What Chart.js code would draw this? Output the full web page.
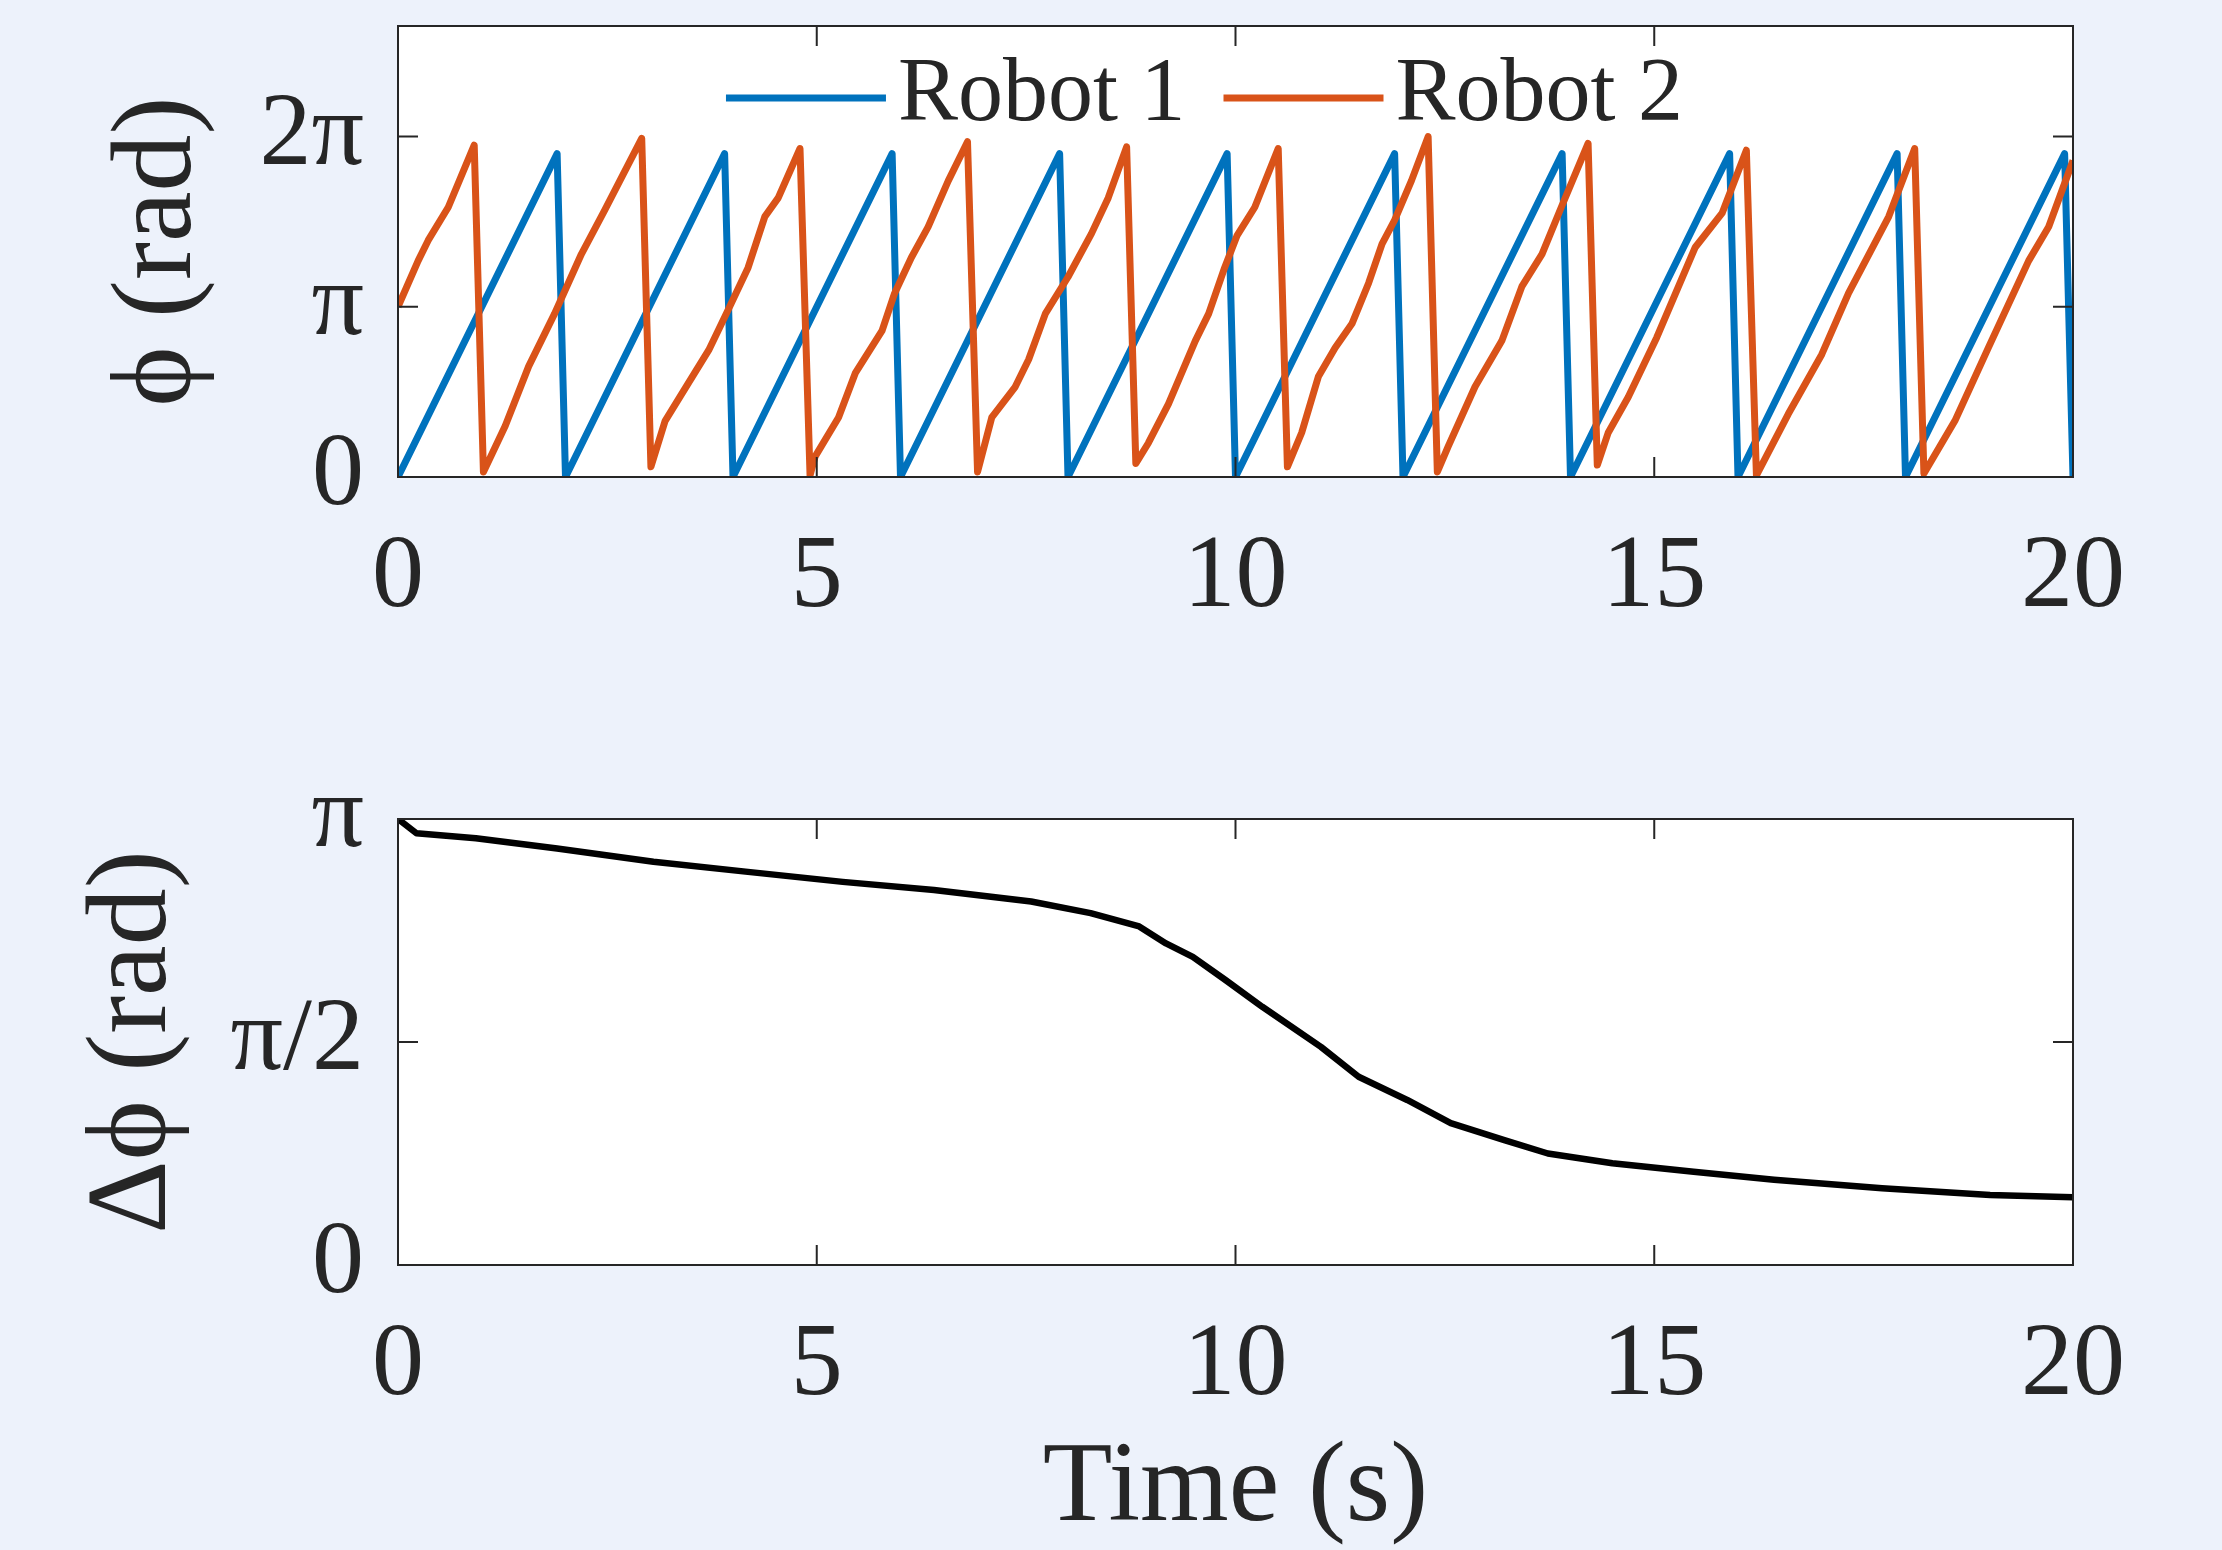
<!DOCTYPE html>
<html>
<head>
<meta charset="utf-8">
<title>Robot phase</title>
<script src="https://cdn.jsdelivr.net/npm/chart.js@4.4.1/dist/chart.umd.min.js"></script>
<style>
  html, body { margin: 0; padding: 0; background: #edf2fb; }
  body { width: 2222px; height: 1550px; position: relative; overflow: hidden; }
  canvas { position: absolute; left: 0; display: block; }
  #phaseChart { top: 0; }
  #diffChart { top: 700px; }
</style>
</head>
<body>
<canvas id="phaseChart" width="2222" height="700"></canvas>
<canvas id="diffChart" width="2222" height="850"></canvas>
<script>
// axis ticks (phase values are in multiples of pi)
const timeTicks = [0, 5, 10, 15, 20];
const phaseTicks = [0, 1, 2];
const phaseTickLabels = ['0', 'π', '2π'];
const diffTicks = [0, 0.5, 1];
const diffTickLabels = ['0', 'π/2', 'π'];

// Robot 1 - sawtooth vertices
const robot1Time = [0, 1.9, 2, 3.9, 4, 5.9, 6, 7.9, 8, 9.9, 10, 11.9, 12, 13.9, 14, 15.9, 16, 17.9, 18, 19.9, 20];
const robot1Phase = [0, 1.9, 0, 1.9, 0, 1.9, 0, 1.9, 0, 1.9, 0, 1.9, 0, 1.9, 0, 1.9, 0, 1.9, 0, 1.9, 0];

// Robot 2
const robot2Time = [0, 0.24, 0.36, 0.60, 0.91, 1.02, 1.28, 1.56, 1.87, 2.19, 2.47, 2.91, 3.02, 3.19, 3.39, 3.71, 3.94,
  4.18, 4.38, 4.54, 4.80, 4.92, 4.98, 5.26, 5.46, 5.78, 5.93, 6.13, 6.33, 6.57, 6.80, 6.92, 7.09, 7.37, 7.53, 7.73,
  8.00, 8.28, 8.48, 8.70, 8.81, 8.96, 9.20, 9.52, 9.68, 9.87, 10.02, 10.23, 10.51, 10.62, 10.79, 10.99, 11.19, 11.39,
  11.59, 11.75, 11.90, 12.10, 12.30, 12.41, 12.54, 12.86, 13.18, 13.42, 13.66, 13.89, 14.21, 14.32, 14.45, 14.69,
  15.03, 15.49, 15.81, 16.10, 16.22, 16.60, 17.00, 17.32, 17.80, 18.11, 18.22, 18.59, 18.99, 19.47, 19.71, 20.0];
const robot2Phase = [1.0, 1.27, 1.39, 1.585, 1.95, 0.03, 0.30, 0.65, 0.96, 1.31, 1.57, 1.99, 0.06, 0.33, 0.49, 0.745, 0.98,
  1.23, 1.53, 1.64, 1.93, 0.01, 0.12, 0.35, 0.61, 0.86, 1.08, 1.29, 1.47, 1.74, 1.97, 0.03, 0.35, 0.53, 0.69, 0.96,
  1.175, 1.43, 1.64, 1.94, 0.08, 0.20, 0.43, 0.80, 0.96, 1.23, 1.42, 1.585, 1.93, 0.06, 0.26, 0.59, 0.76, 0.90,
  1.14, 1.37, 1.51, 1.74, 2.00, 0.03, 0.18, 0.53, 0.80, 1.12, 1.31, 1.585, 1.96, 0.07, 0.26, 0.47,
  0.82, 1.35, 1.55, 1.92, 0.01, 0.37, 0.72, 1.08, 1.53, 1.93, 0.02, 0.33, 0.76, 1.27, 1.47, 1.86];

// phase difference
const diffTime = [0, 0.22, 0.93, 1.90, 3.05, 4.15, 5.31, 6.40, 7.56, 8.27, 8.85, 9.17, 9.49, 9.88, 10.32, 11.02, 11.47,
  12.05, 12.57, 13.21, 13.73, 14.50, 15.47, 16.43, 17.72, 19.01, 20.0];
const diffPhase = [1.0, 0.968, 0.957, 0.934, 0.904, 0.882, 0.859, 0.841, 0.815, 0.789, 0.759, 0.721, 0.691, 0.639, 0.579,
  0.489, 0.422, 0.370, 0.318, 0.280, 0.250, 0.228, 0.209, 0.191, 0.172, 0.157, 0.152];

const textColor = '#262626';
const serif = '"Liberation Serif", "DejaVu Serif", serif';
const tickFont = { family: serif, size: 104, lineHeight: 1 };
const titleFont = { family: serif, size: 114, lineHeight: 1 };
const tickLen = 20;

const toPoints = (xs, ys) => xs.map((x, i) => ({ x: x, y: ys[i] }));

// white plot area, box and inward ticks like matlab
const framePlugin = {
  id: 'frame',
  beforeDraw(chart) {
    const { ctx, chartArea: a } = chart;
    ctx.save();
    ctx.fillStyle = '#ffffff';
    ctx.fillRect(a.left, a.top, a.right - a.left, a.bottom - a.top);
    ctx.restore();
  },
  afterDatasetsDraw(chart) {
    const { ctx, chartArea: a, scales } = chart;
    ctx.save();
    ctx.strokeStyle = textColor;
    ctx.lineWidth = 2;
    ctx.beginPath();
    scales.x.ticks.forEach(t => {
      const px = scales.x.getPixelForValue(t.value);
      ctx.moveTo(px, a.bottom); ctx.lineTo(px, a.bottom - tickLen);
      ctx.moveTo(px, a.top); ctx.lineTo(px, a.top + tickLen);
    });
    scales.y.ticks.forEach(t => {
      const py = scales.y.getPixelForValue(t.value);
      ctx.moveTo(a.left, py); ctx.lineTo(a.left + tickLen, py);
      ctx.moveTo(a.right, py); ctx.lineTo(a.right - tickLen, py);
    });
    ctx.stroke();
    ctx.strokeRect(a.left, a.top, a.right - a.left, a.bottom - a.top);
    ctx.restore();
  }
};

// legend drawn inside the top of the plot area
const insideLegend = {
  id: 'insideLegend',
  afterDatasetsDraw(chart) {
    const { ctx, chartArea: a } = chart;
    const sample = 160, gap = 12, itemGap = 38;
    ctx.save();
    ctx.font = '90px ' + serif;
    const items = chart.data.datasets.map(ds => ({ label: ds.label, color: ds.borderColor, w: ctx.measureText(ds.label).width }));
    const total = items.reduce((s, it) => s + sample + gap + it.w, 0) + itemGap * (items.length - 1);
    let x = (a.left + a.right) / 2 - 31 - total / 2;
    const y = a.top + 72;
    items.forEach(it => {
      ctx.strokeStyle = it.color;
      ctx.lineWidth = 7;
      ctx.beginPath();
      ctx.moveTo(x, y); ctx.lineTo(x + sample, y);
      ctx.stroke();
      ctx.fillStyle = textColor;
      ctx.textBaseline = 'alphabetic';
      ctx.fillText(it.label, x + sample + gap, y + 22);
      x += sample + gap + it.w + itemGap;
    });
    ctx.restore();
  }
};

function fixBox(width, height) {
  return scale => {
    if (width) scale.width = width;
    if (height) scale.height = height;
    scale.paddingLeft = 0; scale.paddingRight = 0;
    scale.paddingTop = 0; scale.paddingBottom = 0;
  };
}

function timeAxis(height, title) {
  return {
    type: 'linear',
    min: 0,
    max: 20,
    afterBuildTicks: s => { s.ticks = timeTicks.map(v => ({ value: v })); },
    afterFit: fixBox(0, height),
    grid: { display: false, drawTicks: false, tickLength: 0 },
    border: { display: false },
    ticks: { font: tickFont, color: textColor, padding: 50, maxRotation: 0, autoSkip: false, callback: v => String(v) },
    title: title ? { display: true, text: title, font: titleFont, color: textColor, padding: { top: 0, bottom: 3 } } : { display: false }
  };
}

function valueAxis(max, tickVals, tickLabels, title, titlePad) {
  return {
    type: 'linear',
    min: 0,
    max: max,
    afterBuildTicks: s => { s.ticks = tickVals.map(v => ({ value: v })); },
    afterFit: fixBox(398, 0),
    grid: { display: false, drawTicks: false, tickLength: 0 },
    border: { display: false },
    ticks: { font: tickFont, color: textColor, padding: 34, autoSkip: false, callback: (v, i) => tickLabels[i] },
    title: { display: true, text: title, font: titleFont, color: textColor, padding: { top: titlePad, bottom: 0 } }
  };
}

const common = {
  responsive: false,
  animation: false,
  events: [],
  plugins: { legend: { display: false }, tooltip: { enabled: false } },
  elements: { point: { radius: 0 }, line: { tension: 0 } }
};

new Chart(document.getElementById('phaseChart'), {
  type: 'line',
  data: {
    datasets: [
      { label: 'Robot 1', data: toPoints(robot1Time, robot1Phase), borderColor: '#0072BD', borderWidth: 7, order: 1, borderJoinStyle: 'round' },
      { label: 'Robot 2', data: toPoints(robot2Time, robot2Phase), borderColor: '#D95319', borderWidth: 7, order: 0, borderJoinStyle: 'round' }
    ]
  },
  options: Object.assign({}, common, {
    layout: { padding: { left: 0, right: 149, top: 26, bottom: 0 } },
    scales: {
      x: timeAxis(223, null),
      y: valueAxis(2.65, phaseTicks, phaseTickLabels, 'ϕ (rad)', 103)
    }
  }),
  plugins: [framePlugin, insideLegend]
});

new Chart(document.getElementById('diffChart'), {
  type: 'line',
  data: {
    datasets: [
      { label: 'Δϕ', data: toPoints(diffTime, diffPhase), borderColor: '#000000', borderWidth: 6.5, borderJoinStyle: 'round' }
    ]
  },
  options: Object.assign({}, common, {
    layout: { padding: { left: 0, right: 149, top: 119, bottom: 0 } },
    scales: {
      x: timeAxis(285, 'Time (s)'),
      y: valueAxis(1, diffTicks, diffTickLabels, 'Δϕ (rad)', 78)
    }
  }),
  plugins: [framePlugin]
});
</script>
</body>
</html>
